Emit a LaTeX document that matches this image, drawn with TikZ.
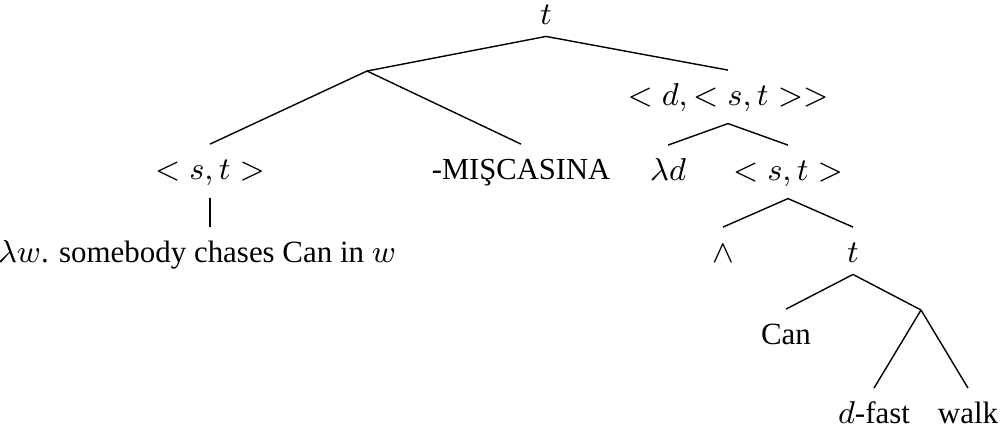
\documentclass[tikz,border=0pt]{standalone}
\usepackage{amsmath, amssymb}
\usepackage{fontspec}
\setmainfont{Liberation Serif}
\usepackage{tikz}
\usetikzlibrary{positioning}

\begin{document}
\begin{tikzpicture}[
    lbl/.style={anchor=base, text height=6.4pt, font=\fontsize{8.8}{10.6}\selectfont},
    capslbl/.style={lbl, font=\fontsize{8.7}{10.4}\selectfont}
  ]
    \useasboundingbox (0,0) rectangle (10.03,-4.32);
    \node[lbl] (root) at (5.46,-0.24) {$t$};
    \node[lbl] (type) at (7.28,-1.05) {$<d,<s,t>>$};
    \coordinate (mid) at (3.67,-0.71);
    \node[lbl] (st1) at (2.10,-1.79) {$<s,t>$};
    \node[capslbl] (mis) at (5.21,-1.79) {-MIŞCASINA};
    \node[lbl] (lamd) at (6.68,-1.80) {$\lambda d$};
    \node[lbl] (st2) at (7.88,-1.80) {$<s,t>$};
    \node[lbl] (lamw) at (1.97,-2.62) {$\lambda w$. somebody chases Can in $w$};
    \node[lbl] (wedge) at (7.23,-2.62) {$\wedge$};
    \node[lbl] (t2) at (8.53,-2.62) {$t$};
    \node[lbl] (can) at (7.86,-3.44) {Can};
    \coordinate (vp) at (9.21,-3.10);
    \node[lbl] (dfast) at (8.74,-4.23) {$d$-fast};
    \node[lbl] (walk) at (9.68,-4.23) {walk};

    \draw (root.south) -- (mid);
    \draw (root.south) -- (type.north);
    \draw (mid) -- (st1.north);
    \draw (mid) -- (mis.north);
    \draw (type.south) -- (lamd.north);
    \draw (type.south) -- (st2.north);
    \draw (st1.south) -- (st1.south |- lamw.north);
    \draw (st2.south) -- (wedge.north);
    \draw (st2.south) -- (t2.north);
    \draw (t2.south) -- (can.north);
    \draw (t2.south) -- (vp);
    \draw (vp) -- (dfast.north);
    \draw (vp) -- (walk.north);
\end{tikzpicture}
\end{document}
